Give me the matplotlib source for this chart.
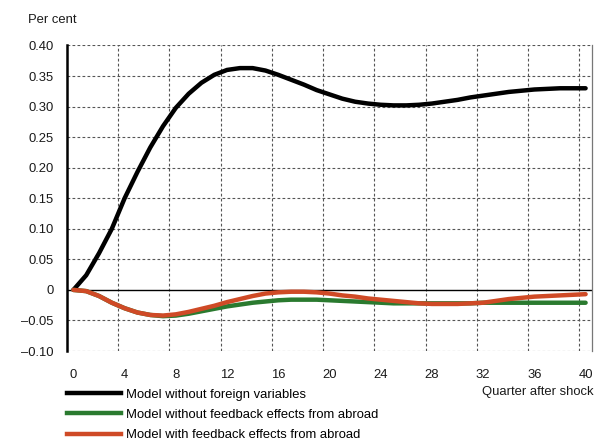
import matplotlib
matplotlib.use("Agg")
import matplotlib.pyplot as plt
from matplotlib.lines import Line2D
import numpy as np

plt.rcParams['font.family'] = ['Liberation Sans', 'DejaVu Sans']

quarters = list(range(41))

no_foreign = [0.000, 0.024, 0.060, 0.100, 0.150, 0.193, 0.233, 0.268, 0.298, 0.321,
              0.339, 0.352, 0.360, 0.363, 0.363, 0.359, 0.352, 0.344, 0.336, 0.327,
              0.320, 0.313, 0.308, 0.305, 0.303, 0.302, 0.302, 0.303, 0.305, 0.308,
              0.311, 0.315, 0.318, 0.321, 0.324, 0.326, 0.328, 0.329, 0.330, 0.330,
              0.330]

no_feedback = [0.000, -0.002, -0.010, -0.021, -0.030, -0.037, -0.041, -0.043, -0.042, -0.039,
               -0.035, -0.031, -0.027, -0.024, -0.021, -0.019, -0.017, -0.016, -0.016, -0.016,
               -0.017, -0.018, -0.019, -0.020, -0.021, -0.022, -0.022, -0.022, -0.022, -0.022,
               -0.022, -0.022, -0.021, -0.021, -0.021, -0.021, -0.021, -0.021, -0.021, -0.021,
               -0.021]

with_feedback = [0.000, -0.002, -0.010, -0.021, -0.030, -0.037, -0.041, -0.042, -0.040, -0.036,
                 -0.031, -0.026, -0.020, -0.015, -0.010, -0.006, -0.004, -0.003, -0.003, -0.004,
                 -0.006, -0.009, -0.011, -0.014, -0.016, -0.018, -0.020, -0.022, -0.023, -0.023,
                 -0.023, -0.022, -0.021, -0.018, -0.015, -0.013, -0.011, -0.010, -0.009, -0.008,
                 -0.007]

series_labels = ["Model without foreign variables",
                 "Model without feedback effects from abroad",
                 "Model with feedback effects from abroad"]
series_colors = ["#000000", "#2a7a2f", "#cf4a26"]

x_ticks = list(range(0, 41, 4))
y_ticks = [-0.10, -0.05, 0.0, 0.05, 0.10, 0.15, 0.20, 0.25, 0.30, 0.35, 0.40]

FS = 9.4


def fmt(v):
    if abs(v) < 1e-9:
        return "0"
    s = f"{abs(v):.2f}"
    return ("\u2013" + s) if v < 0 else s


W, H = 595, 440
fig = plt.figure(figsize=(W / 100, H / 100), dpi=100)
ax = fig.add_axes([67 / W, 1 - 351 / H, (592 - 67) / W, (351 - 45.5) / H])

ax.set_xlim(-0.5, 40.5)
ax.set_ylim(-0.10, 0.40)

# grid: horizontal at every tick, vertical at category boundaries
grid_kw = dict(color="#555555", lw=0.8, ls=(0, (2.5, 2)), zorder=1)
for yv in y_ticks:
    if abs(yv) > 1e-9:
        ax.axhline(yv, **grid_kw)
for xv in np.arange(3.5, 40, 4):
    ax.axvline(xv, **grid_kw)
ax.axhline(0, color="black", lw=1.0, zorder=2)

for data, col in zip([no_foreign, no_feedback, with_feedback], series_colors):
    ax.plot(quarters, data, color=col, lw=3.2, solid_capstyle="round",
            solid_joinstyle="round", zorder=3)

for side in ("top", "bottom"):
    ax.spines[side].set_visible(False)
ax.spines["left"].set_linewidth(1.8)
ax.spines["left"].set_color("black")
ax.spines["right"].set_linewidth(0.9)
ax.spines["right"].set_color("#777777")

ax.set_xticks(x_ticks)
ax.set_xticklabels([str(t) for t in x_ticks])
ax.set_yticks(y_ticks)
ax.set_yticklabels([fmt(v) for v in y_ticks])
ax.tick_params(axis="both", length=0, labelsize=FS, colors="#1a1a1a")
ax.tick_params(axis="x", pad=13)
ax.tick_params(axis="y", pad=9.5)

fig.text(28 / W, 1 - 20 / H, "Per cent", fontsize=FS, ha="left", va="center", color="#1a1a1a")
fig.text(593 / W, 1 - 392 / H, "Quarter after shock", fontsize=FS, ha="right", va="center",
         color="#1a1a1a")

handles = [Line2D([], [], color=c, lw=3.2) for c in series_colors]
fig.legend(handles, series_labels, loc="upper left", bbox_to_anchor=(64 / W, 1 - 386 / H),
           frameon=False, fontsize=FS, handlelength=4.15, handletextpad=0.4,
           labelspacing=0.62, borderaxespad=0, borderpad=0.2)

fig.savefig("out.png", dpi=100)
